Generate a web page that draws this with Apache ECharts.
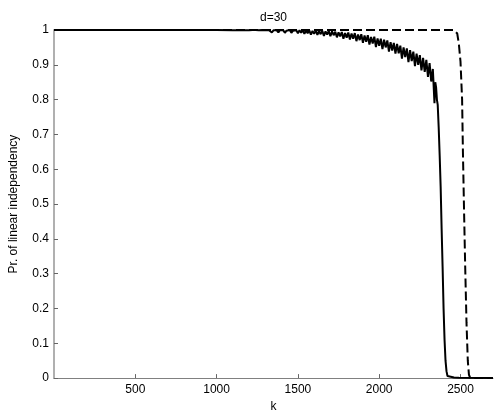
<!DOCTYPE html>
<html>
<head>
<meta charset="utf-8">
<script src="https://cdn.jsdelivr.net/npm/echarts@6.0.0/dist/echarts.min.js"></script>
<style>
  html, body { margin: 0; padding: 0; background: #fff; }
  #main { width: 496px; height: 418px; }
</style>
</head>
<body>
<div id="main"></div>
<script>
// x tick labels (0 is not labelled in the original)
const xTicks = [500, 1000, 1500, 2000, 2500];

// solid (noisy) curve
const solidK = [0, 1000, 1100,
  1200, 1210, 1220, 1230, 1240, 1250, 1260, 1270, 1280, 1290,
  1300, 1310, 1320, 1330, 1340, 1350, 1360, 1370, 1380, 1390,
  1400, 1410, 1420, 1430, 1440, 1450, 1460, 1470, 1480, 1490,
  1500, 1510, 1520, 1530, 1540, 1550, 1560, 1570, 1580, 1590,
  1600, 1610, 1620, 1630, 1640, 1650, 1660, 1670, 1680, 1690,
  1700, 1710, 1720, 1730, 1740, 1750, 1760, 1770, 1780, 1790,
  1800, 1810, 1820, 1830, 1840, 1850, 1860, 1870, 1880, 1890,
  1900, 1910, 1920, 1930, 1940, 1950, 1960, 1970, 1980, 1990,
  2000, 2010, 2020, 2030, 2040, 2050, 2060, 2070, 2080, 2090,
  2100, 2110, 2120, 2130, 2140, 2150, 2160, 2170, 2180, 2190,
  2200, 2210, 2220, 2230, 2240, 2250, 2260, 2270, 2280, 2290,
  2300, 2310, 2320, 2330, 2340, 2345, 2350, 2355, 2360, 2366,
  2372, 2378, 2384, 2390, 2396, 2402, 2408, 2414, 2420, 2440,
  2450, 2460, 2490, 2500, 2700];
const solidP = [1.000, 1.000, 0.9995,
  0.999, 0.996, 1.000, 0.997, 1.000, 0.995, 0.999, 0.996, 1.000, 0.995,
  0.999, 0.995, 1.000, 0.996, 0.993, 0.999, 0.995, 0.999, 0.993, 1.000,
  0.995, 0.999, 0.992, 0.998, 0.994, 1.000, 0.992, 0.998, 0.993, 0.999,
  0.991, 0.999, 0.992, 1.000, 0.989, 0.998, 0.991, 0.999, 0.987, 0.997,
  0.989, 0.999, 0.986, 0.997, 0.988, 0.998, 0.983, 0.996, 0.987, 0.997,
  0.982, 0.996, 0.985, 0.995, 0.979, 0.993, 0.982, 0.994, 0.975, 0.991,
  0.978, 0.993, 0.973, 0.990, 0.975, 0.991, 0.968, 0.987, 0.971, 0.988,
  0.963, 0.984, 0.966, 0.985, 0.958, 0.980, 0.961, 0.981, 0.951, 0.976,
  0.955, 0.975, 0.945, 0.972, 0.950, 0.970, 0.938, 0.965, 0.941, 0.963,
  0.932, 0.960, 0.933, 0.955, 0.918, 0.950, 0.922, 0.947, 0.908, 0.942,
  0.911, 0.938, 0.896, 0.932, 0.900, 0.928, 0.884, 0.920, 0.880, 0.914,
  0.865, 0.905, 0.852, 0.888, 0.790, 0.850, 0.835, 0.800, 0.785, 0.720,
  0.640, 0.550, 0.430, 0.320, 0.200, 0.110, 0.050, 0.020, 0.006, 0.004,
  0.006, 0.002, 0.001, 0.000, 0.000];

// dashed curve
const dashK = [0, 2460, 2470, 2480, 2490, 2500, 2510, 2515, 2522, 2529, 2537, 2545, 2552, 2560, 2700];
const dashP = [1.000, 1.000, 0.998, 0.990, 0.960, 0.910, 0.800, 0.650, 0.480, 0.320, 0.160, 0.050, 0.010, 0.000, 0.000];

function zip(a, b) {
  return a.map((v, i) => [v, b[i]]);
}

let chart = echarts.init(document.getElementById('main'));
chart.setOption({
  animation: false,
  textStyle: { fontFamily: 'Liberation Sans, Arial, sans-serif' },
  title: {
    text: 'd=30',
    left: 255,
    top: 7,
    textStyle: { fontSize: 12, fontWeight: 'normal', color: '#000' }
  },
  grid: { left: 46, right: 3, top: 30, bottom: 37 },
  xAxis: {
    type: 'value',
    min: 0,
    max: 2700,
    name: 'k',
    nameLocation: 'middle',
    nameGap: 21,
    nameTextStyle: { fontSize: 12, color: '#000' },
    splitLine: { show: false },
    axisLine: { show: true, lineStyle: { color: '#808080', width: 1 } },
    axisTick: { inside: true, length: 4, lineStyle: { color: '#666' }, customValues: xTicks },
    axisLabel: {
      fontSize: 12, color: '#000', margin: 6, customValues: xTicks,
      formatter: v => String(v)
    }
  },
  yAxis: {
    type: 'value',
    min: 0,
    max: 1,
    interval: 0.1,
    name: 'Pr. of linear independency',
    nameLocation: 'middle',
    nameGap: 34,
    nameRotate: 90,
    nameTextStyle: { fontSize: 12, color: '#000' },
    splitLine: { show: false },
    axisLine: { show: true, lineStyle: { color: '#b0b0b0', width: 2 } },
    axisTick: { inside: true, length: 4, lineStyle: { color: '#666' } },
    axisLabel: { fontSize: 12, color: '#000', margin: 5 }
  },
  series: [
    {
      name: 'dashed',
      type: 'line',
      data: zip(dashK, dashP),
      showSymbol: false,
      symbol: 'none',
      clip: false,
      lineStyle: { color: '#000', width: 2, type: [9, 4] }
    },
    {
      name: 'solid',
      type: 'line',
      data: zip(solidK, solidP),
      showSymbol: false,
      symbol: 'none',
      clip: false,
      lineStyle: { color: '#000', width: 2 }
    }
  ]
});
</script>
</body>
</html>
